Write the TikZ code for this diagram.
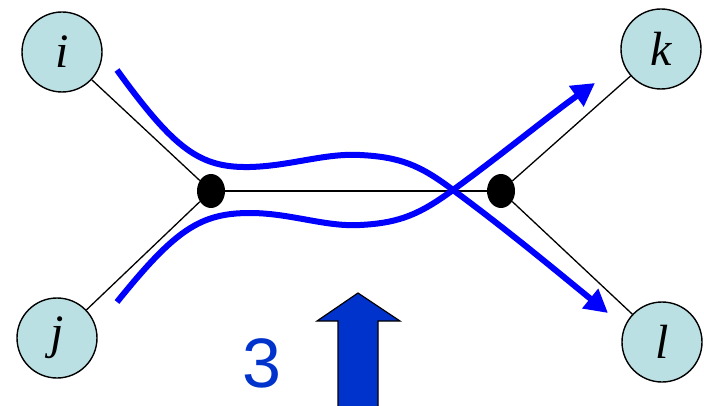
\documentclass[tikz,border=0pt]{standalone}
\usepackage{fontspec}
\newfontfamily\labfont{Liberation Serif}
\newfontfamily\numfont{Liberation Sans}
\usetikzlibrary{arrows.meta,shapes.geometric}
\definecolor{nodefill}{HTML}{BBE0E3}
\definecolor{flowblue}{HTML}{0000FF}
\definecolor{bigblue}{HTML}{0033CC}
\tikzset{
  vert/.style={circle,draw=black,line width=1.4pt,fill=nodefill,minimum size=80pt,inner sep=0pt,
    font=\labfont\itshape\fontsize{48}{48}\selectfont},
  junct/.style={ellipse,fill=black,minimum width=28pt,minimum height=34pt,inner sep=0pt},
  edge/.style={line width=1.3pt,black},
  flow/.style={line width=6pt,flowblue,-{Triangle[length=23pt,width=24pt]}},
}
\begin{document}
\begin{tikzpicture}[x=1pt,y=-1pt]
\useasboundingbox (0,0) rectangle (704,406);
\clip (0,0) rectangle (704,406);
\node[vert] (i) at (62,52) {i};
\node[vert] (j) at (57,338) {j};
\node[vert] (k) at (661,49) {k};
\node[vert] (l) at (662,342) {l};
\node[junct] (d1) at (211,191) {};
\node[junct] (d2) at (501,191) {};
\draw[edge] (i) -- (d1);
\draw[edge] (j) -- (d1);
\draw[edge] (d1) -- (d2);
\draw[edge] (d2) -- (k);
\draw[edge] (d2) -- (l);
\coordinate (a1) at (117,70);
\coordinate (a2) at (608,313);
\coordinate (b1) at (117,302);
\coordinate (b2) at (595,83);
\draw[flow] (a1) .. controls (175,150) and (200,168) .. (250,167)
  .. controls (290,166) and (325,153) .. (360,155)
  .. controls (400,157) and (420,165) .. (453,190)
  .. controls (510,232) and (560,274) .. (a2);
\draw[flow] (b1) .. controls (175,230) and (200,213) .. (250,213)
  .. controls (290,213) and (325,227) .. (360,225)
  .. controls (400,223) and (420,214) .. (453,190)
  .. controls (505,152) and (550,115) .. (b2);
\node[font=\numfont\fontsize{70}{70}\selectfont,text=bigblue,inner sep=0pt] (n3) at (262,363) {3};
\draw[fill=bigblue,draw=black,line width=1.2pt] (338,410) -- (338,321) -- (317,321) -- (358,293) -- (400,321) -- (378,321) -- (378,410) -- cycle;
\end{tikzpicture}
\end{document}
